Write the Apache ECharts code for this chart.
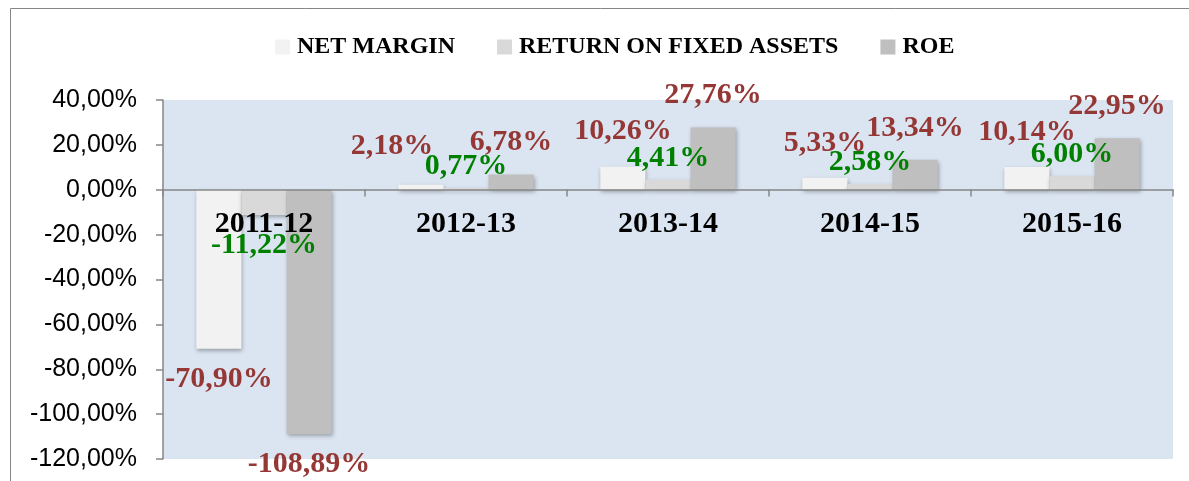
<!DOCTYPE html>
<html>
<head>
<meta charset="utf-8">
<script src="https://cdn.jsdelivr.net/npm/echarts@6/dist/echarts.min.js"></script>
<style>
  html, body { margin: 0; padding: 0; background: #ffffff; }
  #chart { width: 1189px; height: 481px; }
</style>
</head>
<body>
<div id="chart"></div>
<script>
// chart data
var years = ['2011-12', '2012-13', '2013-14', '2014-15', '2015-16'];
var netMargin = [-70.90, 2.18, 10.26, 5.33, 10.14];
var returnOnFixedAssets = [-11.22, 0.77, 4.41, 2.58, 6.00];
var roe = [-108.89, 6.78, 27.76, 13.34, 22.95];
var seriesNames = ['NET MARGIN', 'RETURN ON FIXED ASSETS', 'ROE'];
var yTicks = { min: -120, max: 40, interval: 20 };

// one label was dragged by hand in the original: series index - category index
var labelNudge = { '0-1': [-29, -4] };

var serif = '"Liberation Serif", "Times New Roman", serif';
var red = '#953735';
var green = '#008000';

function pct(v) {
  return v.toFixed(2).replace('.', ',') + '%';
}

// positive values get their label above the bar, negative ones below
function toData(si, values, upDist) {
  return values.map(function (v, i) {
    var label = v < 0 ? { position: 'bottom', distance: 15 } : { position: 'top', distance: upDist };
    if (labelNudge[si + '-' + i]) {
      label.offset = labelNudge[si + '-' + i];
    }
    return { value: v, label: label };
  });
}

function barSeries(si, values, fill, labelColor, upDist) {
  return {
    name: seriesNames[si],
    type: 'bar',
    data: toData(si, values, upDist),
    barGap: 0,
    barCategoryGap: '33%',
    itemStyle: {
      color: fill,
      shadowColor: 'rgba(0,0,0,0.3)',
      shadowBlur: 4,
      shadowOffsetX: 1,
      shadowOffsetY: 2
    },
    label: {
      show: true,
      color: labelColor,
      fontFamily: serif,
      fontWeight: 'bold',
      fontSize: 30,
      formatter: function (p) { return pct(p.value); }
    },
    z: 2
  };
}

var chart = echarts.init(document.getElementById('chart'), null, { renderer: 'canvas' });

chart.setOption({
  animation: false,
  backgroundColor: '#ffffff',
  graphic: [{
    type: 'rect',
    shape: { x: 10.5, y: 8.5, width: 1400, height: 700 },
    style: { fill: 'none', stroke: '#868686', lineWidth: 1 },
    silent: true,
    z: -1
  }],
  legend: {
    left: 275,
    top: 35,
    padding: 0,
    itemWidth: 15,
    itemHeight: 15,
    itemGap: 42,
    icon: 'rect',
    data: seriesNames,
    textStyle: {
      fontFamily: serif,
      fontWeight: 'bold',
      fontSize: 24,
      color: '#000000',
      padding: [0, 0, 0, 2]
    }
  },
  grid: {
    left: 163,
    right: 16,
    top: 100,
    bottom: 22,
    outerBoundsMode: 'none',
    containLabel: false,
    show: true,
    backgroundColor: '#dbe5f1',
    borderWidth: 0
  },
  xAxis: {
    type: 'category',
    data: years,
    position: 'bottom',
    offset: -269.5, // category axis sits on the 0 % line
    z: 5,
    axisLine: { onZero: false, lineStyle: { color: '#868686', width: 1.5 } },
    axisTick: { show: true, length: 7, lineStyle: { color: '#868686', width: 1.5 } },
    axisLabel: {
      margin: 20,
      color: '#000000',
      fontFamily: serif,
      fontWeight: 'bold',
      fontSize: 30
    },
    splitLine: { show: false }
  },
  yAxis: {
    type: 'value',
    min: yTicks.min,
    max: yTicks.max,
    interval: yTicks.interval,
    axisLine: { show: true, lineStyle: { color: '#868686', width: 1.5 } },
    axisTick: { show: true, length: 7, lineStyle: { color: '#868686', width: 1.5 } },
    axisLabel: {
      margin: 26,
      color: '#000000',
      fontFamily: '"Liberation Sans", sans-serif',
      fontSize: 25,
      formatter: function (v) { return pct(v); }
    },
    splitLine: { show: false }
  },
  series: [
    barSeries(0, netMargin, '#f2f2f2', red, 20),
    barSeries(1, returnOnFixedAssets, '#d9d9d9', green, 7),
    barSeries(2, roe, '#bfbfbf', red, 17)
  ]
});
</script>
</body>
</html>
